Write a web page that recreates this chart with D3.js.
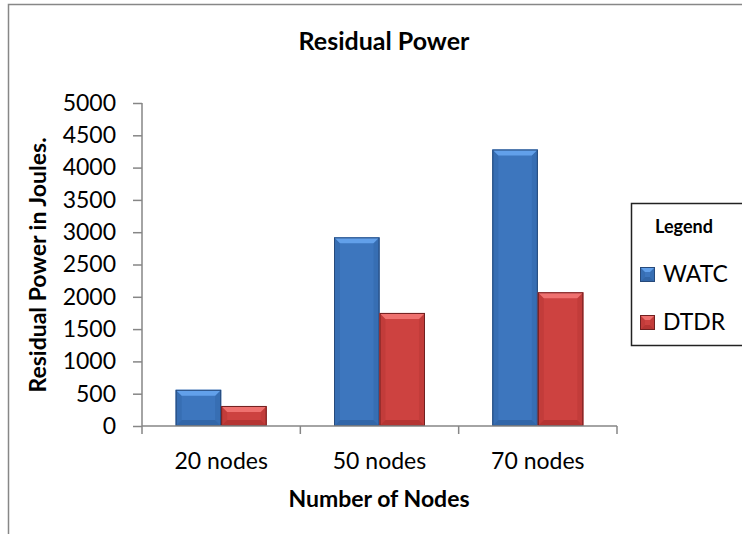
<!DOCTYPE html>
<html>
<head>
<meta charset="utf-8">
<script src="https://cdn.jsdelivr.net/npm/d3@7"></script>
<style>
  body { margin: 0; background: #fff; }
  text { font-family: Lato, "Open Sans", sans-serif; fill: #000; }
</style>
</head>
<body>
<script>
// chart data
const categories = ["20 nodes", "50 nodes", "70 nodes"];
const series = ["WATC", "DTDR"];
const watc = [560, 2920, 4280];
const dtdr = [310, 1750, 2070];
const yTicks = [0, 500, 1000, 1500, 2000, 2500, 3000, 3500, 4000, 4500, 5000];

const values = { WATC: watc, DTDR: dtdr };

// colours for the bevelled bars
const palette = {
    WATC: { base: "#3d76be", top: "#62a0ea", side: "#376eb3", bottom: "#3266a8", edge: "#26497a" },
    DTDR: { base: "#cd4240", top: "#ef716f", side: "#c23c3a", bottom: "#b53533", edge: "#702020" }
};

const width = 742, height = 534;
const svg = d3.select("body").append("svg")
    .attr("width", width)
    .attr("height", height);

// outer chart frame (right/bottom edges lie outside the picture)
svg.append("rect")
    .attr("x", 8.5).attr("y", 4.5)
    .attr("width", 800).attr("height", 600)
    .attr("fill", "none")
    .attr("stroke", "#878787")
    .attr("stroke-width", 1.5);

const x0 = d3.scaleBand().domain(categories).range([142, 617]).padding(0);
const x1 = d3.scaleBand().domain(series).range([0, x0.bandwidth()])
    .paddingInner(0).paddingOuter(0.74);
const y = d3.scaleLinear().domain([0, 5000]).range([426, 103]);

// bevelled bar, like the office "bevel" shape effect
function bevelBar(g, x, yTop, w, h, c, b0) {
    const b = Math.min(b0, h / 2);
    g.append("rect").attr("x", x).attr("y", yTop).attr("width", w).attr("height", h)
        .attr("fill", c.base);
    // left and right sides
    g.append("path").attr("fill", c.side)
        .attr("d", `M${x},${yTop}L${x + b},${yTop + b}L${x + b},${yTop + h - b}L${x},${yTop + h}Z`);
    g.append("path").attr("fill", c.side)
        .attr("d", `M${x + w},${yTop}L${x + w - b},${yTop + b}L${x + w - b},${yTop + h - b}L${x + w},${yTop + h}Z`);
    // bottom
    g.append("path").attr("fill", c.bottom)
        .attr("d", `M${x},${yTop + h}L${x + b},${yTop + h - b}L${x + w - b},${yTop + h - b}L${x + w},${yTop + h}Z`);
    // top highlight
    g.append("path").attr("fill", c.top)
        .attr("d", `M${x},${yTop}L${x + w},${yTop}L${x + w - b},${yTop + b}L${x + b},${yTop + b}Z`);
    g.append("rect").attr("x", x + 0.5).attr("y", yTop + 0.5)
        .attr("width", Math.max(0, w - 1)).attr("height", Math.max(0, h - 1))
        .attr("fill", "none").attr("stroke", c.edge).attr("stroke-width", 1);
}

// bars
const barsG = svg.append("g");
categories.forEach((cat, i) => {
    series.forEach(s => {
        const v = values[s][i];
        bevelBar(barsG, x0(cat) + x1(s), y(v), x1.bandwidth(), y(0) - y(v), palette[s], 6);
    });
});

// y axis
const yAxis = svg.append("g")
    .attr("transform", "translate(142,0)")
    .call(d3.axisLeft(y).tickValues(yTicks).tickSize(9).tickPadding(17).tickFormat(d3.format("d")));
yAxis.selectAll("text").style("font-size", "23px");
yAxis.selectAll("path, line").attr("stroke", "#868686").attr("stroke-width", 1.5);
yAxis.select(".domain").attr("d", "M0,103V426");

// x axis: labels centred in the bands, ticks on the band edges
const xAxis = svg.append("g")
    .attr("transform", "translate(0,426)")
    .call(d3.axisBottom(x0).tickSize(0).tickPadding(27));
xAxis.selectAll("text").style("font-size", "23px");
xAxis.select(".domain").attr("stroke", "#868686").attr("stroke-width", 1.5)
    .attr("d", "M142,0H617");

const edges = categories.map(c => x0(c)).concat([x0.range()[1]]);
xAxis.selectAll(".edge")
    .data(edges)
    .enter()
    .append("line")
    .attr("class", "edge")
    .attr("x1", d => d).attr("x2", d => d)
    .attr("y1", 0).attr("y2", 8)
    .attr("stroke", "#868686").attr("stroke-width", 1.5);

// titles
svg.append("text")
    .attr("x", 384).attr("y", 50)
    .attr("text-anchor", "middle")
    .style("font-size", "25px").style("font-weight", "bold")
    .text("Residual Power");

svg.append("text")
    .attr("x", 379).attr("y", 507)
    .attr("text-anchor", "middle")
    .style("font-size", "23px").style("font-weight", "bold")
    .text("Number of Nodes");

svg.append("text")
    .attr("transform", "translate(46,265) rotate(-90)")
    .attr("text-anchor", "middle")
    .style("font-size", "23px").style("font-weight", "bold")
    .text("Residual Power in Joules.");

// legend
const legend = svg.append("g");
legend.append("rect")
    .attr("x", 631.5).attr("y", 203.5)
    .attr("width", 120).attr("height", 142)
    .attr("fill", "#fff")
    .attr("stroke", "#222").attr("stroke-width", 1.5);
legend.append("text")
    .attr("x", 684).attr("y", 233)
    .attr("text-anchor", "middle")
    .style("font-size", "18px").style("font-weight", "bold")
    .text("Legend");

series.forEach((s, i) => {
    const ly = 267 + i * 48;
    bevelBar(legend, 640, ly, 15, 15, palette[s], 5);
    legend.append("text")
        .attr("x", 663).attr("y", ly + 15)
        .style("font-size", "23px")
        .text(s);
});
</script>
</body>
</html>
